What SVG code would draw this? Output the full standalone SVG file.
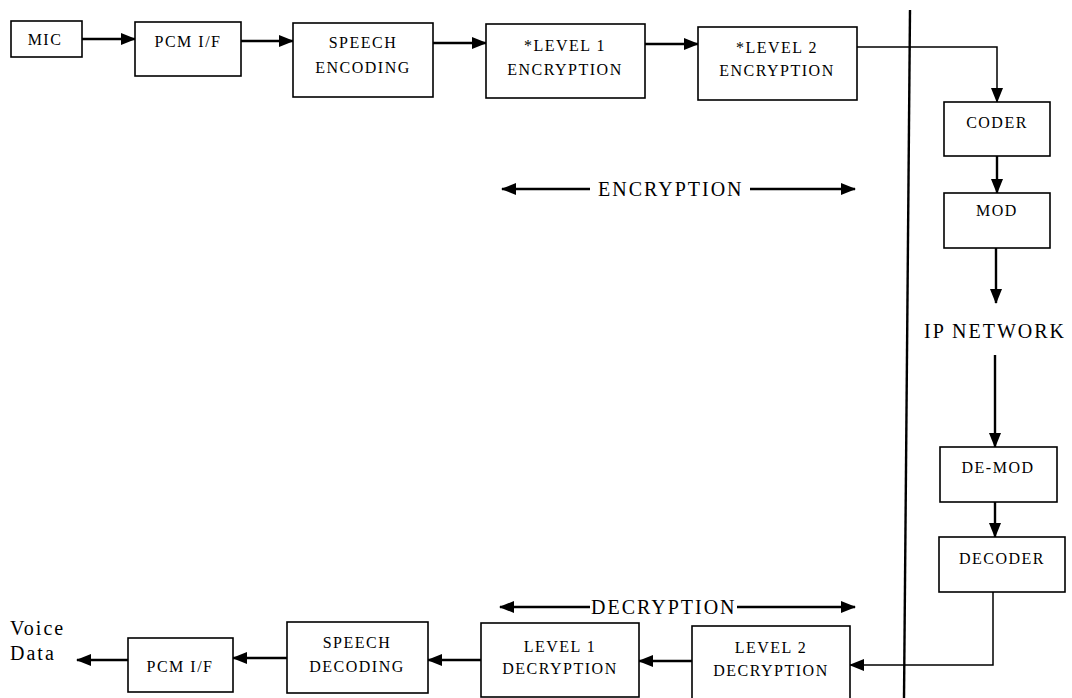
<svg xmlns="http://www.w3.org/2000/svg" width="1072" height="698" viewBox="0 0 1072 698">
<style>
.box{fill:#fff;stroke:#000;stroke-width:1.6}
.t{font-family:"Liberation Serif","Times New Roman",serif;font-size:16px;letter-spacing:1.5px;text-anchor:middle;fill:#000}
.big{font-family:"Liberation Serif","Times New Roman",serif;font-size:20px;letter-spacing:2px;fill:#000}
.c{fill:none;stroke:#000;stroke-width:2.4}
.thin{fill:none;stroke:#000;stroke-width:1.5}
</style>
<defs>
<marker id="ah" markerUnits="userSpaceOnUse" markerWidth="15" markerHeight="12" refX="14" refY="6" orient="auto">
<path d="M0,0 L15,6 L0,12 Z" fill="#000"/>
</marker>
</defs>
<rect width="1072" height="698" fill="#fff"/>
<g id="connectors">
<line class="c" x1="910" y1="10" x2="904" y2="698" stroke-width="2.5"/>
<line class="c" x1="82" y1="39" x2="135" y2="39" marker-end="url(#ah)"/>
<line class="c" x1="241" y1="41" x2="293" y2="41" marker-end="url(#ah)"/>
<line class="c" x1="433" y1="43" x2="486" y2="43" marker-end="url(#ah)"/>
<line class="c" x1="645" y1="44" x2="698" y2="44" marker-end="url(#ah)"/>
<polyline class="thin" points="857,47 997,47 997,102" marker-end="url(#ah)"/>
<line class="c" x1="997" y1="156" x2="997" y2="193" marker-end="url(#ah)"/>
<line class="c" x1="996" y1="248" x2="996" y2="303" marker-end="url(#ah)"/>
<line class="c" x1="995" y1="355" x2="995" y2="447" marker-end="url(#ah)"/>
<line class="c" x1="995" y1="502" x2="995" y2="537" marker-end="url(#ah)"/>
<polyline class="thin" points="993,592 993,665 850,665" marker-end="url(#ah)"/>
<line class="c" x1="692" y1="661" x2="639" y2="661" marker-end="url(#ah)"/>
<line class="c" x1="481" y1="660" x2="428" y2="660" marker-end="url(#ah)"/>
<line class="c" x1="287" y1="658" x2="233" y2="658" marker-end="url(#ah)"/>
<line class="c" x1="128" y1="660" x2="77" y2="660" marker-end="url(#ah)"/>
<line class="c" x1="590" y1="189" x2="502" y2="189" marker-end="url(#ah)"/>
<line class="c" x1="750" y1="189" x2="855" y2="189" marker-end="url(#ah)"/>
<line class="c" x1="590" y1="607" x2="500" y2="607" marker-end="url(#ah)"/>
<line class="c" x1="737" y1="607" x2="855" y2="607" marker-end="url(#ah)"/>
</g>
<g id="mic"><rect class="box" x="11" y="21" width="71" height="36"/><text class="t" x="45" y="45">MIC</text></g>
<g id="pcm-tx"><rect class="box" x="135" y="22" width="106" height="54"/><text class="t" x="188" y="47">PCM I/F</text></g>
<g id="speech-enc"><rect class="box" x="293" y="23" width="140" height="74"/><text class="t" x="363" y="48">SPEECH</text><text class="t" x="363" y="73">ENCODING</text></g>
<g id="enc1"><rect class="box" x="486" y="24" width="159" height="74"/><text class="t" x="565" y="51">*LEVEL 1</text><text class="t" x="565" y="75">ENCRYPTION</text></g>
<g id="enc2"><rect class="box" x="698" y="27" width="159" height="73"/><text class="t" x="777" y="53">*LEVEL 2</text><text class="t" x="777" y="76">ENCRYPTION</text></g>
<g id="coder"><rect class="box" x="944" y="102" width="106" height="54"/><text class="t" x="997" y="128">CODER</text></g>
<g id="mod"><rect class="box" x="944" y="193" width="106" height="55"/><text class="t" x="997" y="216">MOD</text></g>
<g id="ipnet"><text class="big" x="995" y="338" text-anchor="middle" font-size="21" letter-spacing="0.5">IP NETWORK</text></g>
<g id="demod"><rect class="box" x="940" y="447" width="117" height="55"/><text class="t" x="998" y="473">DE-MOD</text></g>
<g id="decoder"><rect class="box" x="939" y="537" width="126" height="55"/><text class="t" x="1002" y="564">DECODER</text></g>
<g id="dec2"><rect class="box" x="692" y="626" width="158" height="74"/><text class="t" x="771" y="653">LEVEL 2</text><text class="t" x="771" y="676">DECRYPTION</text></g>
<g id="dec1"><rect class="box" x="481" y="623" width="158" height="74"/><text class="t" x="560" y="652">LEVEL 1</text><text class="t" x="560" y="674">DECRYPTION</text></g>
<g id="speech-dec"><rect class="box" x="287" y="622" width="141" height="71"/><text class="t" x="357" y="648">SPEECH</text><text class="t" x="357" y="672">DECODING</text></g>
<g id="pcm-rx"><rect class="box" x="128" y="638" width="105" height="54"/><text class="t" x="180" y="672">PCM I/F</text></g>
<g id="voice"><text class="big" x="10" y="635" font-size="18" letter-spacing="1">Voice</text><text class="big" x="10" y="660" font-size="18" letter-spacing="1">Data</text></g>
<g id="enc-label"><text class="big" x="598" y="196">ENCRYPTION</text></g>
<g id="dec-label"><text class="big" x="591" y="614">DECRYPTION</text></g>
</svg>
